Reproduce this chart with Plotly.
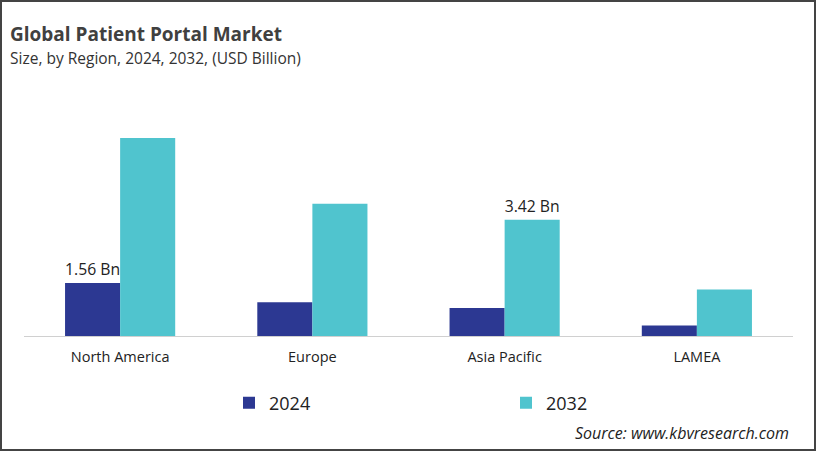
import plotly.graph_objects as go

regions = ["North America", "Europe", "Asia Pacific", "LAMEA"]
years = ["2024", "2032"]
values_2024 = [1.56, 0.99, 0.82, 0.31]
values_2032 = [5.82, 3.89, 3.42, 1.37]
labels_2024 = ["1.56 Bn", "", "", ""]
labels_2032 = ["", "", "3.42 Bn", ""]

W, H = 817, 452
ML, MR, MT, MB = 24, 24, 132, 116

fig = go.Figure()
fig.add_trace(go.Bar(
    name=years[0], x=regions, y=values_2024, text=labels_2024,
    textposition="outside", cliponaxis=False,
    marker=dict(color="#2C3892", line=dict(width=0)),
    textfont=dict(family="Open Sans", size=16, color="#222222"),
))
fig.add_trace(go.Bar(
    name=years[1], x=regions, y=values_2032, text=labels_2032,
    textposition="outside", cliponaxis=False,
    marker=dict(color="#50C4CE", line=dict(width=0)),
    textfont=dict(family="Open Sans", size=16, color="#222222"),
))

pw = W - ML - MR
ph = H - MT - MB

fig.update_layout(
    width=W, height=H,
    margin=dict(l=ML, r=MR, t=MT, b=MB),
    paper_bgcolor="white", plot_bgcolor="white",
    barmode="group", bargap=0.427, bargroupgap=0,
    showlegend=True,
    legend=dict(
        orientation="h", x=(229 - ML) / pw, y=-(403 - MT - ph) / ph,
        xanchor="left", yanchor="middle",
        entrywidth=232, entrywidthmode="pixels",
        font=dict(family="Open Sans", size=18, color="#222222"),
        itemwidth=30, traceorder="normal",
    ),
    xaxis=dict(
        showline=True, linecolor="#d0d0d0", linewidth=1,
        ticks="", showgrid=False, zeroline=False,
        tickfont=dict(family="Open Sans", size=14.5, color="#222222"),
        ticklabelstandoff=8,
        fixedrange=True,
    ),
    yaxis=dict(
        range=[0, 6], visible=False, showgrid=False, zeroline=False,
        fixedrange=True,
    ),
    font=dict(family="Open Sans"),
)

fig.add_annotation(
    text="<b>Global Patient Portal Market</b>", xref="paper", yref="paper",
    x=-(ML - 8) / pw, y=1 + (MT - 34) / ph, xanchor="left", yanchor="middle",
    showarrow=False, font=dict(family="Open Sans", size=19, color="#404040"),
)
fig.add_annotation(
    text="Size, by Region, 2024, 2032, (USD Billion)", xref="paper", yref="paper",
    x=-(ML - 8) / pw, y=1 + (MT - 58) / ph, xanchor="left", yanchor="middle",
    showarrow=False, font=dict(family="Open Sans", size=15.5, color="#333333"),
)
fig.add_annotation(
    text="<i>Source: www.kbvresearch.com</i>", xref="paper", yref="paper",
    x=1 - (MR - 22) / pw, y=-(433 - MT - ph) / ph, xanchor="right", yanchor="middle",
    showarrow=False, font=dict(family="Open Sans", size=16, color="#222222"),
)
fig.add_shape(
    type="rect", xref="paper", yref="paper",
    x0=-(ML - 1) / pw, x1=1 + (MR - 2) / pw,
    y0=-(MB - 2) / ph, y1=1 + (MT - 1) / ph,
    line=dict(color="#444444", width=2), fillcolor="rgba(0,0,0,0)", layer="above",
)

fig.write_html(
    "out.html",
    config={"displayModeBar": False},
    post_script="document.body.style.margin='0';document.body.style.overflow='hidden';",
)
